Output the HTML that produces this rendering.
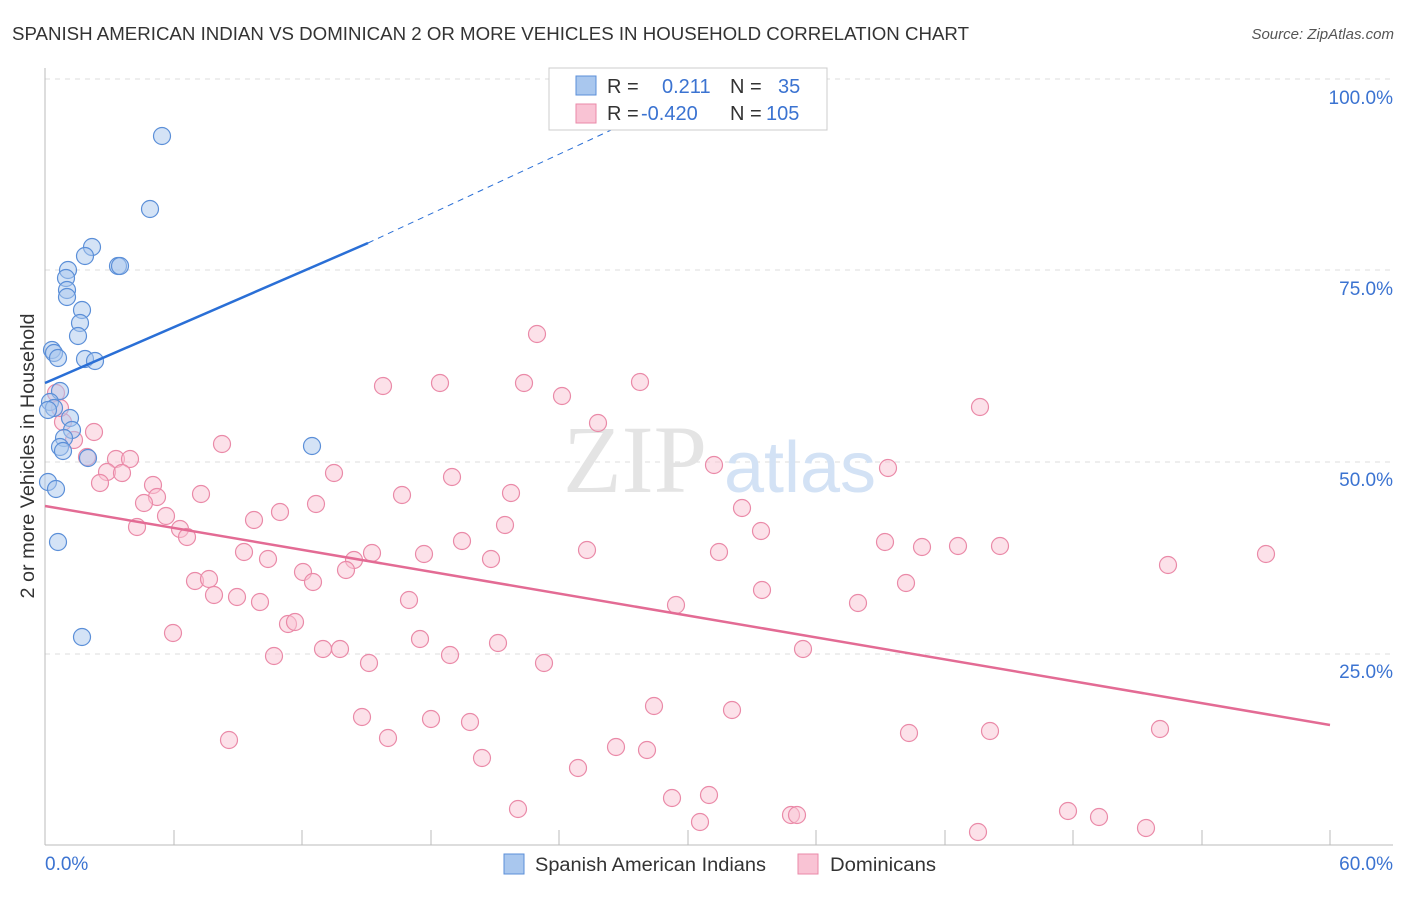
<!DOCTYPE html>
<html><head><style>
body{margin:0;background:#fff;font-family:"Liberation Sans",sans-serif;}
</style></head><body>
<svg width="1406" height="892" xmlns="http://www.w3.org/2000/svg" font-family="Liberation Sans, sans-serif">
<text x="12" y="40" font-size="18" fill="#333" textLength="957" lengthAdjust="spacingAndGlyphs">SPANISH AMERICAN INDIAN VS DOMINICAN 2 OR MORE VEHICLES IN HOUSEHOLD CORRELATION CHART</text>
<text x="1394" y="39" font-size="15" fill="#555" font-style="italic" text-anchor="end">Source: ZipAtlas.com</text>
<g stroke="#ddd" stroke-dasharray="5,5">
<line x1="45" y1="79" x2="1393" y2="79"/><line x1="45" y1="270" x2="1393" y2="270"/><line x1="45" y1="462" x2="1393" y2="462"/><line x1="45" y1="654" x2="1393" y2="654"/>
</g>
<line x1="45" y1="68" x2="45" y2="845" stroke="#bbb"/>
<line x1="45" y1="845" x2="1393" y2="845" stroke="#bbb"/>
<g stroke="#bbb">
<line x1="174" y1="830" x2="174" y2="845"/><line x1="302" y1="830" x2="302" y2="845"/><line x1="431" y1="830" x2="431" y2="845"/><line x1="559" y1="830" x2="559" y2="845"/><line x1="688" y1="830" x2="688" y2="845"/><line x1="816" y1="830" x2="816" y2="845"/><line x1="945" y1="830" x2="945" y2="845"/><line x1="1073" y1="830" x2="1073" y2="845"/><line x1="1202" y1="830" x2="1202" y2="845"/><line x1="1330" y1="830" x2="1330" y2="845"/>
</g>
<g font-size="19" fill="#3b73d1" text-anchor="end">
<text x="1393" y="104">100.0%</text><text x="1393" y="295">75.0%</text><text x="1393" y="486">50.0%</text><text x="1393" y="678">25.0%</text>
</g>
<text x="45" y="870" font-size="19" fill="#3b73d1">0.0%</text>
<text x="1393" y="870" font-size="19" fill="#3b73d1" text-anchor="end">60.0%</text>
<text transform="translate(34,456) rotate(-90)" font-size="19" fill="#333" text-anchor="middle" textLength="285" lengthAdjust="spacingAndGlyphs">2 or more Vehicles in Household</text>
<text x="635" y="492" font-size="96" fill="#e4e4e4" font-family="Liberation Serif, serif" text-anchor="middle">ZIP</text>
<text x="800" y="492" font-size="72" fill="#d3e2f5" text-anchor="middle">atlas</text>
<g fill="#f9c3d4" fill-opacity="0.5" stroke="#ea8aa8" stroke-width="1.2">
<circle cx="537" cy="334" r="8.5"/><circle cx="383" cy="386" r="8.5"/><circle cx="440" cy="383" r="8.5"/><circle cx="524" cy="383" r="8.5"/><circle cx="640" cy="382" r="8.5"/><circle cx="562" cy="396" r="8.5"/><circle cx="980" cy="407" r="8.5"/><circle cx="598" cy="423" r="8.5"/><circle cx="56" cy="393" r="8.5"/><circle cx="63" cy="422" r="8.5"/><circle cx="60" cy="408" r="8.5"/><circle cx="94" cy="432" r="8.5"/><circle cx="74" cy="440" r="8.5"/><circle cx="222" cy="444" r="8.5"/><circle cx="87" cy="457" r="8.5"/><circle cx="116" cy="459" r="8.5"/><circle cx="130" cy="459" r="8.5"/><circle cx="107" cy="472" r="8.5"/><circle cx="122" cy="473" r="8.5"/><circle cx="100" cy="483" r="8.5"/><circle cx="334" cy="473" r="8.5"/><circle cx="452" cy="477" r="8.5"/><circle cx="714" cy="465" r="8.5"/><circle cx="888" cy="468" r="8.5"/><circle cx="153" cy="485" r="8.5"/><circle cx="157" cy="497" r="8.5"/><circle cx="201" cy="494" r="8.5"/><circle cx="402" cy="495" r="8.5"/><circle cx="511" cy="493" r="8.5"/><circle cx="144" cy="503" r="8.5"/><circle cx="316" cy="504" r="8.5"/><circle cx="742" cy="508" r="8.5"/><circle cx="166" cy="516" r="8.5"/><circle cx="254" cy="520" r="8.5"/><circle cx="280" cy="512" r="8.5"/><circle cx="505" cy="525" r="8.5"/><circle cx="137" cy="527" r="8.5"/><circle cx="180" cy="529" r="8.5"/><circle cx="187" cy="537" r="8.5"/><circle cx="462" cy="541" r="8.5"/><circle cx="761" cy="531" r="8.5"/><circle cx="244" cy="552" r="8.5"/><circle cx="268" cy="559" r="8.5"/><circle cx="372" cy="553" r="8.5"/><circle cx="354" cy="560" r="8.5"/><circle cx="424" cy="554" r="8.5"/><circle cx="491" cy="559" r="8.5"/><circle cx="587" cy="550" r="8.5"/><circle cx="719" cy="552" r="8.5"/><circle cx="885" cy="542" r="8.5"/><circle cx="922" cy="547" r="8.5"/><circle cx="958" cy="546" r="8.5"/><circle cx="1000" cy="546" r="8.5"/><circle cx="1168" cy="565" r="8.5"/><circle cx="1266" cy="554" r="8.5"/><circle cx="346" cy="570" r="8.5"/><circle cx="303" cy="572" r="8.5"/><circle cx="195" cy="581" r="8.5"/><circle cx="209" cy="579" r="8.5"/><circle cx="313" cy="582" r="8.5"/><circle cx="906" cy="583" r="8.5"/><circle cx="214" cy="595" r="8.5"/><circle cx="237" cy="597" r="8.5"/><circle cx="260" cy="602" r="8.5"/><circle cx="409" cy="600" r="8.5"/><circle cx="676" cy="605" r="8.5"/><circle cx="762" cy="590" r="8.5"/><circle cx="858" cy="603" r="8.5"/><circle cx="173" cy="633" r="8.5"/><circle cx="288" cy="624" r="8.5"/><circle cx="295" cy="622" r="8.5"/><circle cx="420" cy="639" r="8.5"/><circle cx="498" cy="643" r="8.5"/><circle cx="323" cy="649" r="8.5"/><circle cx="340" cy="649" r="8.5"/><circle cx="803" cy="649" r="8.5"/><circle cx="274" cy="656" r="8.5"/><circle cx="450" cy="655" r="8.5"/><circle cx="369" cy="663" r="8.5"/><circle cx="544" cy="663" r="8.5"/><circle cx="654" cy="706" r="8.5"/><circle cx="732" cy="710" r="8.5"/><circle cx="362" cy="717" r="8.5"/><circle cx="431" cy="719" r="8.5"/><circle cx="470" cy="722" r="8.5"/><circle cx="229" cy="740" r="8.5"/><circle cx="388" cy="738" r="8.5"/><circle cx="909" cy="733" r="8.5"/><circle cx="990" cy="731" r="8.5"/><circle cx="1160" cy="729" r="8.5"/><circle cx="616" cy="747" r="8.5"/><circle cx="647" cy="750" r="8.5"/><circle cx="482" cy="758" r="8.5"/><circle cx="578" cy="768" r="8.5"/><circle cx="518" cy="809" r="8.5"/><circle cx="672" cy="798" r="8.5"/><circle cx="709" cy="795" r="8.5"/><circle cx="700" cy="822" r="8.5"/><circle cx="791" cy="815" r="8.5"/><circle cx="797" cy="815" r="8.5"/><circle cx="1068" cy="811" r="8.5"/><circle cx="1099" cy="817" r="8.5"/><circle cx="978" cy="832" r="8.5"/><circle cx="1146" cy="828" r="8.5"/>
</g>
<g fill="#a9c7ee" fill-opacity="0.5" stroke="#5b8fd8" stroke-width="1.2">
<circle cx="162" cy="136" r="8.5"/><circle cx="150" cy="209" r="8.5"/><circle cx="92" cy="247" r="8.5"/><circle cx="85" cy="256" r="8.5"/><circle cx="68" cy="270" r="8.5"/><circle cx="66" cy="278" r="8.5"/><circle cx="118" cy="266" r="8.5"/><circle cx="120" cy="266" r="8.5"/><circle cx="67" cy="290" r="8.5"/><circle cx="67" cy="297" r="8.5"/><circle cx="82" cy="310" r="8.5"/><circle cx="80" cy="323" r="8.5"/><circle cx="78" cy="336" r="8.5"/><circle cx="52" cy="350" r="8.5"/><circle cx="54" cy="353" r="8.5"/><circle cx="58" cy="358" r="8.5"/><circle cx="85" cy="359" r="8.5"/><circle cx="95" cy="361" r="8.5"/><circle cx="60" cy="391" r="8.5"/><circle cx="50" cy="402" r="8.5"/><circle cx="54" cy="408" r="8.5"/><circle cx="70" cy="418" r="8.5"/><circle cx="72" cy="430" r="8.5"/><circle cx="64" cy="438" r="8.5"/><circle cx="60" cy="447" r="8.5"/><circle cx="63" cy="451" r="8.5"/><circle cx="88" cy="458" r="8.5"/><circle cx="312" cy="446" r="8.5"/><circle cx="48" cy="482" r="8.5"/><circle cx="56" cy="489" r="8.5"/><circle cx="58" cy="542" r="8.5"/><circle cx="82" cy="637" r="8.5"/><circle cx="48" cy="410" r="8.5"/>
</g>
<line x1="45" y1="506" x2="1330" y2="725" stroke="#e36b94" stroke-width="2.5"/>
<line x1="45" y1="383" x2="368" y2="243" stroke="#2a6fd6" stroke-width="2.5"/>
<line x1="368" y1="243" x2="665" y2="105" stroke="#2a6fd6" stroke-width="1" stroke-dasharray="6,5"/>
<rect x="549" y="68" width="278" height="62" fill="#fff" stroke="#ccc"/>
<rect x="576" y="76" width="20" height="19" fill="#a9c7ee" stroke="#5b8fd8"/>
<rect x="576" y="104" width="20" height="19" fill="#f9c3d4" stroke="#ea8aa8"/>
<g font-size="20">
<text x="607" y="93" fill="#333">R =</text><text x="662" y="93" fill="#3b73d1">0.211</text><text x="730" y="93" fill="#333">N =</text><text x="778" y="93" fill="#3b73d1">35</text>
<text x="607" y="120" fill="#333">R =</text><text x="641" y="120" fill="#3b73d1">-0.420</text><text x="730" y="120" fill="#333">N =</text><text x="766" y="120" fill="#3b73d1">105</text>
</g>
<rect x="504" y="854" width="20" height="20" fill="#a9c7ee" stroke="#5b8fd8"/>
<text x="535" y="871" font-size="19" fill="#333" textLength="231" lengthAdjust="spacingAndGlyphs">Spanish American Indians</text>
<rect x="798" y="854" width="20" height="20" fill="#f9c3d4" stroke="#ea8aa8"/>
<text x="830" y="871" font-size="19" fill="#333" textLength="106" lengthAdjust="spacingAndGlyphs">Dominicans</text>
</svg>
</body></html>
